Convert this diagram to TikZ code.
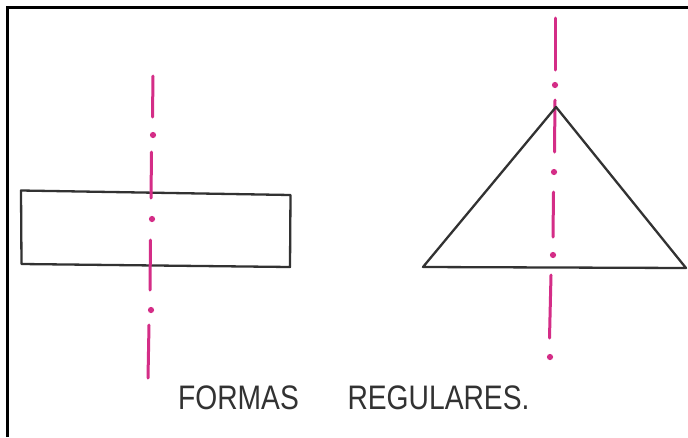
\documentclass[tikz,border=0pt]{standalone}
\usepackage{fontspec}
\setmainfont{Liberation Sans}
\definecolor{axispink}{RGB}{212,45,135}
\definecolor{ink}{RGB}{50,50,50}
\begin{document}
\begin{tikzpicture}[x=1pt,y=-1pt,
  outline/.style={draw=ink,line width=2.3pt,line join=round,line cap=round},
  axisdash/.style={draw=axispink,line width=3pt,line cap=round},
  axisdot/.style={fill=axispink},
  frameline/.style={draw=black,line width=3pt},
  captiontext/.style={font=\fontsize{34}{40}\selectfont,text=ink,xscale=0.83,inner sep=0pt,anchor=base}]
\useasboundingbox (0,0) rectangle (688,437);
\fill[white] (0,0) rectangle (688,437);
% frame
\draw[frameline] (7,437) -- (7,7) -- (688,7);
% rectangle
\coordinate (r1) at (21,190.5);
\coordinate (r2) at (290.5,195);
\coordinate (r3) at (290,267);
\coordinate (r4) at (21.5,264);
\draw[outline] (r1) -- (r2) -- (r3) -- (r4) -- cycle;
% left axis
\draw[axisdash] (153,76) -- (152.5,117);
\fill[axisdot] (153,135) circle (3.1);
\draw[axisdash] (151.5,152) -- (151,198);
\fill[axisdot] (152,219) circle (3.1);
\draw[axisdash] (150.5,240) -- (150,290);
\fill[axisdot] (151,310) circle (3.1);
\draw[axisdash] (149,325) -- (148,378);
% triangle
\coordinate (t1) at (556,107);
\coordinate (t2) at (686,268);
\coordinate (t3) at (423,267);
% right axis
\draw[axisdash] (555,18) -- (555,70);
\fill[axisdot] (555,85) circle (3.1);
\draw[axisdash] (555,100) -- (554.5,152);
\fill[axisdot] (554,172) circle (3.1);
\draw[axisdash] (553.5,192) -- (553,237);
\fill[axisdot] (553,255) circle (3.1);
\draw[axisdash] (551,275) -- (549.5,338);
\fill[axisdot] (550,357) circle (3.1);
\draw[outline] (t1) -- (t2) -- (t3) -- cycle;
% caption
\node[captiontext] (w1) at (238.5,409) {FORMAS};
\node[captiontext] (w2) at (438.5,409) {REGULARES.};
\end{tikzpicture}
\end{document}
